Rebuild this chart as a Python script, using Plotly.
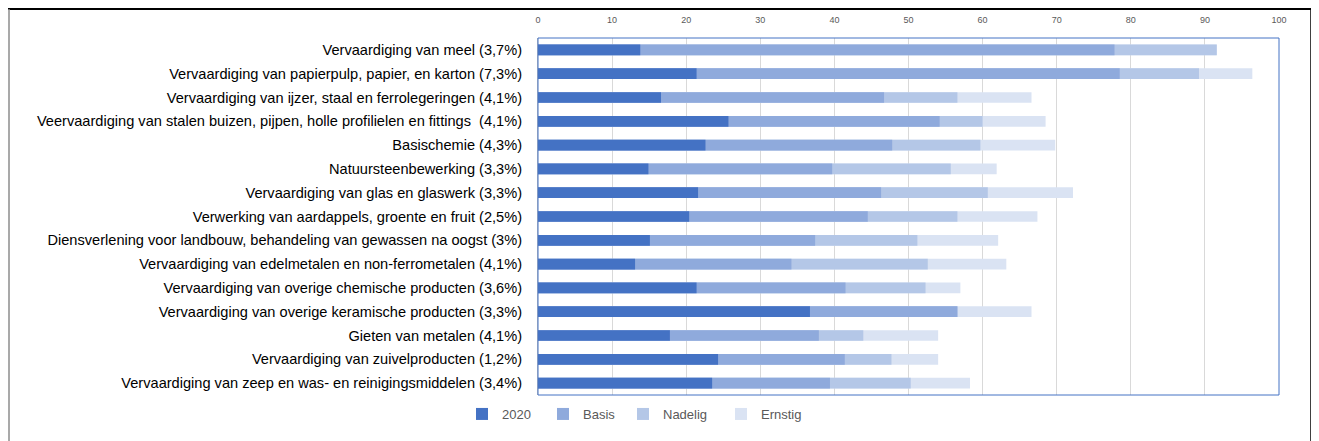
import plotly.graph_objects as go

categories = [
    "Vervaardiging van meel (3,7%)",
    "Vervaardiging van papierpulp, papier, en karton (7,3%)",
    "Vervaardiging van ijzer, staal en ferrolegeringen (4,1%)",
    "Veervaardiging van stalen buizen, pijpen, holle profilielen en fittings  (4,1%)",
    "Basischemie (4,3%)",
    "Natuursteenbewerking (3,3%)",
    "Vervaardiging van glas en glaswerk (3,3%)",
    "Verwerking van aardappels, groente en fruit (2,5%)",
    "Diensverlening voor landbouw, behandeling van gewassen na oogst (3%)",
    "Vervaardiging van edelmetalen en non-ferrometalen (4,1%)",
    "Vervaardiging van overige chemische producten (3,6%)",
    "Vervaardiging van overige keramische producten (3,3%)",
    "Gieten van metalen (4,1%)",
    "Vervaardiging van zuivelproducten (1,2%)",
    "Vervaardiging van zeep en was- en reinigingsmiddelen (3,4%)",
]

v2020 = [13.8, 21.4, 16.6, 25.7, 22.6, 14.9, 21.6, 20.4, 15.1, 13.1, 21.4, 36.7, 17.8, 24.3, 23.5]
basis = [77.8, 78.5, 46.7, 54.2, 47.8, 39.7, 46.3, 44.5, 37.4, 34.2, 41.5, 56.6, 37.9, 41.4, 39.4]
nadelig = [91.6, 89.2, 56.6, 60.0, 59.7, 55.7, 60.7, 56.6, 51.2, 52.6, 52.3, 56.6, 43.9, 47.7, 50.3]
ernstig = [91.6, 96.4, 66.6, 68.5, 69.8, 61.9, 72.2, 67.4, 62.1, 63.2, 57.0, 66.6, 54.0, 54.0, 58.3]

x_ticks = [0, 10, 20, 30, 40, 50, 60, 70, 80, 90, 100]

# (name, values, colour, legend id, legend text start in page px)
series = [
    ("Ernstig", ernstig, "#DAE3F3", "legend5", 757),
    ("Nadelig", nadelig, "#B4C7E7", "legend4", 659),
    ("Basis", basis, "#8FAADC", "legend3", 579),
    ("2020", v2020, "#4472C4", "legend2", 498),
]

OFF = 8  # page body margin
W, H = 1319 - OFF, 441 - OFF
L = 538 - OFF
T = 38 - OFF
R = W - (1279 - OFF)
B = H - (395 - OFF)
pw = W - L - R
ph = H - T - B

def px_x(p):
    return (p - OFF - L) / pw

def px_y(p):
    return (H - B - (p - OFF)) / ph

def cx(p):
    return (p - OFF) / W

def cy(p):
    return 1 - (p - OFF) / H

fig = go.Figure()
for name, vals, col, lg, _ in series:
    fig.add_trace(go.Bar(
        y=categories, x=vals, name=name, orientation="h",
        marker=dict(color=col, line=dict(width=0)), width=0.45,
        legend=lg,
    ))

legend_font = dict(size=13, color="#595959", family="Liberation Sans Narrow, Liberation Sans, Arial")
legends = {}
for name, vals, col, lg, tx in series:
    legends[lg] = dict(
        orientation="h", xref="container", yref="container",
        x=cx(tx - 36), xanchor="left",
        y=cy(414 - 15), yanchor="top",
        font=legend_font, itemwidth=30, bgcolor="rgba(0,0,0,0)",
    )

fig.update_layout(
    width=W, height=H,
    barmode="overlay",
    margin=dict(l=L, r=R, t=T, b=B, autoexpand=False),
    paper_bgcolor="white", plot_bgcolor="white",
    font=dict(family="Liberation Sans Narrow, Liberation Sans, Arial", color="#000000"),
    showlegend=True,
    xaxis=dict(
        range=[0, 100], side="top", tickvals=x_ticks,
        tickfont=dict(size=9, color="#595959", family="Liberation Sans, Arial"),
        showgrid=True, gridcolor="#D9D9D9", gridwidth=1,
        zeroline=False, showline=False, ticks="", ticklabelstandoff=12,
        fixedrange=True,
    ),
    yaxis=dict(
        autorange="reversed", tickfont=dict(size=14.6, color="#000000"),
        showgrid=False, zeroline=False, showline=True, linecolor="#BFBFBF",
        ticks="", ticklabelstandoff=12, fixedrange=True,
    ),
    shapes=[
        dict(type="rect", xref="paper", yref="paper", x0=0, x1=1, y0=0, y1=1,
             line=dict(color="#4472C4", width=1), fillcolor="rgba(0,0,0,0)", layer="above"),
        # outer chart border: top and right dark, left grey
        dict(type="line", xref="paper", yref="paper",
             x0=px_x(8), x1=px_x(1311), y0=px_y(9), y1=px_y(9),
             line=dict(color="#000000", width=2)),
        dict(type="line", xref="paper", yref="paper",
             x0=px_x(1311), x1=px_x(1311), y0=px_y(9), y1=px_y(460),
             line=dict(color="#000000", width=1.5)),
        dict(type="line", xref="paper", yref="paper",
             x0=px_x(9), x1=px_x(9), y0=px_y(9), y1=px_y(460),
             line=dict(color="#8C8C8C", width=1.5)),
    ],
    **legends,
)

fig.write_html("out.html")
